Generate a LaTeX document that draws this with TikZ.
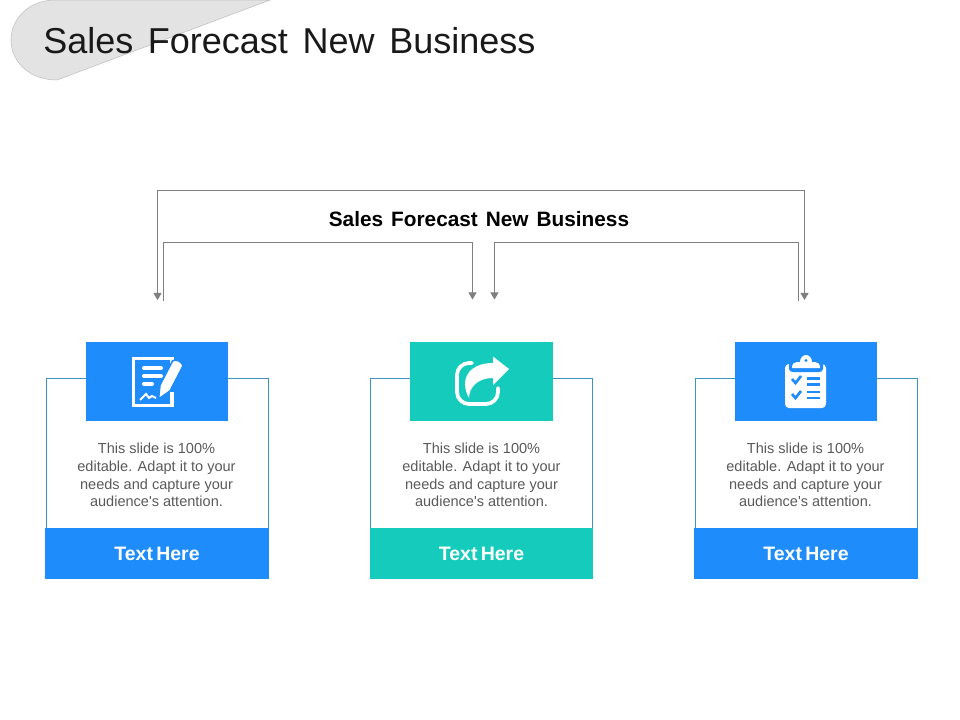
\documentclass[tikz,border=0pt]{standalone}
\usepackage{fontspec}
\setmainfont{Liberation Sans}[Ligatures=TeXOff]
\usetikzlibrary{arrows.meta}
\definecolor{bluebox}{HTML}{1F8CFB}
\definecolor{tealbox}{HTML}{15CBBB}
\definecolor{linegrey}{HTML}{7F7F7F}
\definecolor{bodygrey}{HTML}{595959}
\definecolor{swoosh}{HTML}{E3E3E3}
\definecolor{cardline}{HTML}{3F93BF}
\tikzset{
  cardbox/.style={rectangle,draw=cardline,line width=0.6pt,minimum width=166.5pt,minimum height=112.5pt,inner sep=0pt},
  iconbox/.style={rectangle,fill=#1,minimum width=106.5pt,minimum height=59.25pt,inner sep=0pt},
  footbox/.style={rectangle,fill=#1,minimum width=168pt,minimum height=38.25pt,inner sep=0pt,text=white,font={\fontsize{14.6pt}{17pt}\selectfont\bfseries\spaceskip=2.5pt}},
  bodytext/.style={align=center,text=bodygrey,inner sep=0pt,font={\fontsize{10.9pt}{13.2pt}\selectfont\spaceskip=3.05pt}},
  bracket/.style={draw=linegrey,line width=0.75pt},
  tip/.style={-{Triangle[length=5.25pt,width=6pt]}},
  iconline/.style={draw=white,line width=2.25pt}
}
\begin{document}
\begin{tikzpicture}[x=0.75pt,y=-0.75pt]
  \useasboundingbox (0,0) rectangle (960,720);
  % draw grey corner shape
  \draw [fill=swoosh,draw=black!25,line width=0.4pt](270,0) -- (57,80) .. controls (30,80) and (11,62) .. (11,40) .. controls (11,18) and (30,0) .. (55,0) -- cycle;
  % draw title
  \node at(43,41)[anchor=west,inner sep=0pt,font={\fontsize{27pt}{32pt}\selectfont\spaceskip=11pt},text=black!90](title){Sales Forecast New Business};
  % draw centre heading
  \node at(479,219)[inner sep=0pt,font={\fontsize{15.6pt}{18pt}\selectfont\bfseries\spaceskip=6pt}](heading){Sales Forecast New Business};
  % draw left card
  \node at(157.5,453)[cardbox](cardleft){};
  \node at(157,381.5)[iconbox=bluebox](iconleft){};
  \node at(157,553.5)[footbox=bluebox](footleft){Text Here};
  \node at(156.5,475.2)[bodytext](textleft){This slide is 100\%\\editable. Adapt it to your\\needs and capture your\\audience's attention.};
  % draw middle card
  \node at(481.5,453)[cardbox](cardmid){};
  \node at(481.5,381.5)[iconbox=tealbox,minimum width=107.25pt](iconmid){};
  \node at(481.5,553.5)[footbox=tealbox,minimum width=167.4pt](footmid){Text Here};
  \node at(481.5,475.2)[bodytext](textmid){This slide is 100\%\\editable. Adapt it to your\\needs and capture your\\audience's attention.};
  % draw right card
  \node at(806,453)[cardbox](cardright){};
  \node at(806,381.5)[iconbox=bluebox](iconright){};
  \node at(806,553.5)[footbox=bluebox](footright){Text Here};
  \node at(805.5,475.2)[bodytext](textright){This slide is 100\%\\editable. Adapt it to your\\needs and capture your\\audience's attention.};
  % draw free ends of the brackets
  \coordinate (outerleft) at(157.5,300);
  \coordinate (outerright) at(804.5,300);
  \coordinate (outertopleft) at(157.5,190.5);
  \coordinate (outertopright) at(804.5,190.5);
  \coordinate (innerleft) at(163.5,301);
  \coordinate (innerlefttip) at(472.5,299.5);
  \coordinate (innerrighttip) at(494.5,299.5);
  \coordinate (innerright) at(798.5,301);
  \coordinate (innertopleft) at(163.5,242.5);
  \coordinate (innertopright) at(798.5,242.5);
  % draw brackets
  \draw [bracket,tip](outertopleft) -- (outerleft);
  \draw [bracket,tip](outertopleft) -- (outertopright) -- (outerright);
  \draw [bracket,tip](innerleft) -- (innertopleft) -| (innerlefttip);
  \draw [bracket,tip](innerright) -- (innertopright) -| (innerrighttip);
  % draw document icon
  \draw [iconline,line width=2.6pt](172,385) -- (172,358.7) -- (133.7,358.7) -- (133.7,405.3) -- (172,405.3) -- (172,392);
  \draw [iconline,line width=3pt,line cap=round](144,368) -- (161,368);
  \draw [iconline,line width=3pt,line cap=round](144,376) -- (161,376);
  \draw [iconline,line width=3pt,line cap=round](144,384) -- (152,384);
  \draw [draw=white,line width=1.5pt](140,400) -- (146,394) -- (149,398) -- (152,396) -- (156,398);
  \draw [fill=white,draw=bluebox,line width=1.2pt](158.5,399) -- (160,385) -- (172.5,361) .. controls (175,358) and (183,362) .. (183,366) -- (170,391) -- cycle;
  % draw share icon
  \draw [iconline,line width=2.8pt,line cap=round,rounded corners=9pt](472,363) -- (457,363) -- (457,404) -- (498,404) -- (498,388);
  \draw [fill=white,draw=none](509,369) -- (493,356.5) -- (493,363) .. controls (475,363) and (465,372) .. (465,384) .. controls (465,390) and (467,394) .. (469,398) .. controls (469,388) and (477,378) .. (493,378) -- (493,385) -- cycle;
  % draw clipboard icon
  \draw [fill=white,draw=none,rounded corners=3pt](785,364) -- (826,364) -- (826,408) -- (785,408) -- cycle;
  \draw [fill=bluebox,draw=none](789,362) -- (823,362) -- (823,369) .. controls (823,371) and (821,372) .. (819,372) -- (793,372) .. controls (791,372) and (789,371) .. (789,369) -- cycle;
  \draw [fill=white,draw=none](792,368) .. controls (792,364) and (794,362) .. (797,362) -- (800,362) .. controls (800,358) and (803,355) .. (806,355) .. controls (809,355) and (812,358) .. (812,362) -- (815,362) .. controls (818,362) and (820,364) .. (820,368) -- cycle;
  \draw [fill=bluebox,draw=none](806,360.5) circle (1.6);
  \draw [draw=bluebox,line width=2pt](792,379) -- (795.5,383) -- (801,376);
  \draw [draw=bluebox,line width=2pt](792,394) -- (795.5,398) -- (801,391);
  \draw [draw=bluebox,line width=1.9pt](807,378.5) -- (820,378.5);
  \draw [draw=bluebox,line width=1.9pt](807,384.5) -- (820,384.5);
  \draw [draw=bluebox,line width=1.9pt](807,392) -- (820,392);
  \draw [draw=bluebox,line width=1.9pt](807,398) -- (820,398);
\end{tikzpicture}
\end{document}
